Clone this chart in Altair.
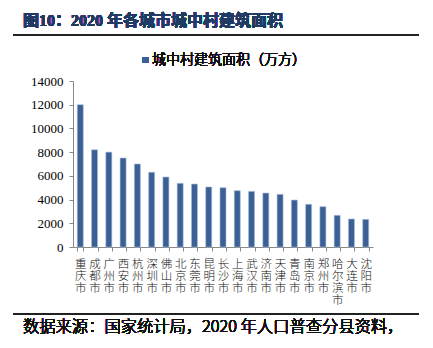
import altair as alt
import pandas as pd

cities = ["重庆市", "成都市", "广州市", "西安市", "杭州市", "深圳市", "佛山市", "北京市",
          "东莞市", "昆明市", "长沙市", "上海市", "武汉市", "济南市", "天津市", "青岛市",
          "南京市", "郑州市", "哈尔滨市", "大连市", "沈阳市"]
areas = [12000, 8200, 8000, 7500, 7000, 6300, 5900, 5370, 5310, 5060, 5000, 4750,
         4690, 4550, 4440, 3960, 3600, 3400, 2670, 2360, 2330]
y_ticks = [0, 2000, 4000, 6000, 8000, 10000, 12000, 14000]

title_text = "图10：2020 年各城市城中村建筑面积"
legend_text = "城中村建筑面积（万方）"
source_text = "数据来源：国家统计局，2020 年人口普查分县资料，"

df = pd.DataFrame({"city": cities, "area": areas})

SERIF = "Liberation Serif, Noto Sans CJK SC"
CJK = "Noto Sans CJK SC"
BAR = "#3A6095"
W, H = 300, 166

bars = alt.Chart(df).mark_bar(color=BAR, stroke="#A9BCD6", strokeWidth=0.6).encode(
    x=alt.X("city:N", sort=cities, title=None,
            scale=alt.Scale(paddingInner=0.58, paddingOuter=0.3),
            axis=alt.Axis(labelAngle=0, labelExpr="split(datum.label, '')",
                          labelLineHeight=12.3, labelFont=CJK, labelFontSize=11.5,
                          labelFontWeight=300,
                          labelColor="#111111", labelPadding=7, tickBand="extent",
                          tickSize=4, tickColor="#888888", domainColor="#888888",
                          labelBaseline="top", labelOverlap=False)),
    y=alt.Y("area:Q", title=None,
            scale=alt.Scale(domain=[0, 14000], nice=False),
            axis=alt.Axis(values=y_ticks, grid=False, format="d", labelFont=SERIF,
                          labelFontSize=13, labelColor="#000000", tickSize=4,
                          tickColor="#888888", domainColor="#888888", labelPadding=6)),
)

title = alt.Chart(df).mark_text(align="left", baseline="middle", fontSize=16,
                                fontWeight="bold", font=SERIF, color="#1F3B63").encode(
    x=alt.value(-50), y=alt.value(-60), text=alt.value(title_text))

top_rule = alt.Chart(df).mark_rule(color="#222222", strokeWidth=2).encode(
    x=alt.value(-60), x2=alt.value(346), y=alt.value(-46))

legend_sq = alt.Chart(df).mark_square(color=BAR, size=36, opacity=1).encode(
    x=alt.value(72.5), y=alt.value(-21))

legend_txt = alt.Chart(df).mark_text(align="left", baseline="middle", fontSize=14,
                                     fontWeight=300, font=CJK, color="#111111").encode(
    x=alt.value(79), y=alt.value(-21), text=alt.value(legend_text))

bot_rule = alt.Chart(df).mark_rule(color="#222222", strokeWidth=1.5).encode(
    x=alt.value(-60), x2=alt.value(346), y=alt.value(233))

source = alt.Chart(df).mark_text(align="left", baseline="middle", fontSize=16.3,
                                 fontWeight=300, font=CJK, color="#111111").encode(
    x=alt.value(-50), y=alt.value(246), text=alt.value(source_text))

chart = alt.layer(bars, title, top_rule, legend_sq, legend_txt, bot_rule, source).properties(
    width=W, height=H,
    autosize=alt.AutoSizeParams(type="none"),
    padding={"left": 73, "top": 81, "right": 60, "bottom": 101},
).configure_view(stroke=None)

chart.save("out.html", embed_options={"renderer": "svg", "actions": False})
